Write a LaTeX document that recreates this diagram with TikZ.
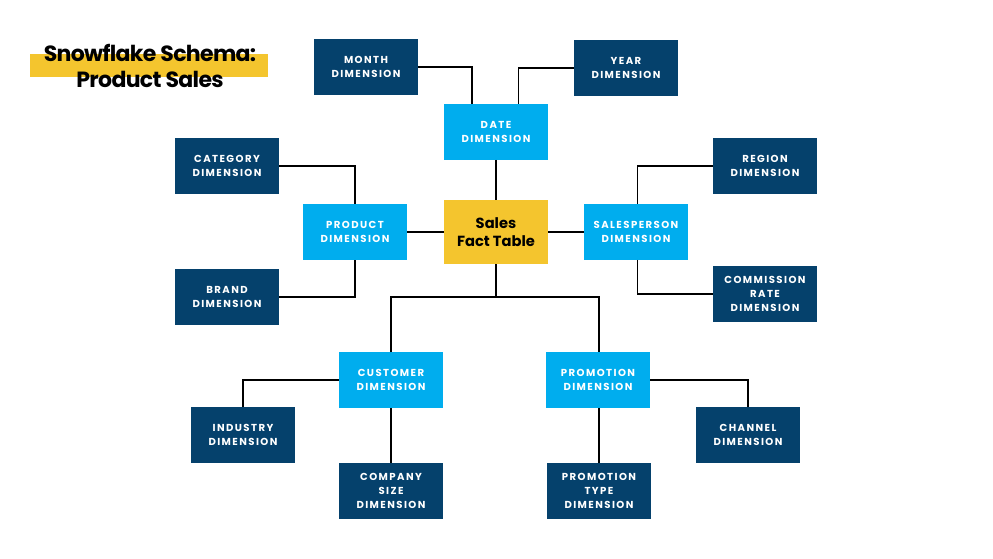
\documentclass[tikz,border=0pt]{standalone}
\usepackage{fontspec}
\setmainfont{Poppins}
\newfontfamily\boxfont[LetterSpace=14]{Poppins}
\newfontfamily\titlefont[LetterSpace=-3]{Poppins}
\usepackage{tikz}

\definecolor{navy}{HTML}{05416C}
\definecolor{sky}{HTML}{00ADEE}
\definecolor{gold}{HTML}{F4C52E}

\begin{document}
\begin{tikzpicture}[x=0.75pt,y=-0.75pt,
    link/.style={line width=1pt,black},
    dimbox/.style={fill=navy,text=white,minimum width=78pt,minimum height=41.5pt,
        align=center,inner sep=1pt,font=\boxfont\bfseries\fontsize{7.6}{10.5}\selectfont},
    subbox/.style={dimbox,fill=sky},
    factbox/.style={fill=gold,text=black,minimum width=78pt,minimum height=48pt,
        align=center,font=\bfseries\fontsize{11}{13.5}\selectfont}]
    % Page frame
    \useasboundingbox[fill=white] (0,0) rectangle (993,559);
    % Title with highlight bar
    \fill[gold] (30,54) rectangle (268,77);
    \node[align=center,font=\titlefont\bfseries\fontsize{16.5}{20}\selectfont] (title) at (150,66) {Snowflake Schema:\\Product Sales};
    % Fact table and first level
    \node[factbox] (sales) at (496,232) {Sales\\Fact Table};
    \node[subbox] (date) at (496,132) {DATE\\DIMENSION};
    \node[subbox] (product) at (355,232) {PRODUCT\\DIMENSION};
    \node[subbox] (salesperson) at (636,232) {SALESPERSON\\DIMENSION};
    \node[subbox] (customer) at (391,380) {CUSTOMER\\DIMENSION};
    \node[subbox] (promotion) at (598,380) {PROMOTION\\DIMENSION};
    % Second level
    \node[dimbox] (month) at (366,67) {MONTH\\DIMENSION};
    \node[dimbox] (year) at (626,68) {YEAR\\DIMENSION};
    \node[dimbox] (category) at (227,166) {CATEGORY\\DIMENSION};
    \node[dimbox] (brand) at (227,297) {BRAND\\DIMENSION};
    \node[dimbox] (region) at (765,166) {REGION\\DIMENSION};
    \node[dimbox] (commission) at (765,294) {COMMISSION\\RATE\\DIMENSION};
    \node[dimbox] (industry) at (243,435) {INDUSTRY\\DIMENSION};
    \node[dimbox] (company) at (391,491) {COMPANY\\SIZE\\DIMENSION};
    \node[dimbox] (channel) at (748,435) {CHANNEL\\DIMENSION};
    \node[dimbox] (promotype) at (599,491) {PROMOTION\\TYPE\\DIMENSION};
    % Connectors
    \coordinate (split) at (496,297);
    \draw[link] (month.east) -| ([xshift=-18pt]date.north);
    \draw[link] (year.west) -| ([xshift=17pt]date.north);
    \draw[link] (date) -- (sales);
    \draw[link] (category.east) -| (product.north);
    \draw[link] (brand.east) -| (product.south);
    \draw[link] (product) -- (sales);
    \draw[link] (sales) -- (salesperson);
    \draw[link] ([xshift=1pt]salesperson.north) |- (region.west);
    \draw[link] ([xshift=1pt]salesperson.south) |- (commission.west);
    \draw[link] (sales.south) -- (split);
    \draw[link] (customer.north) |- (split) -| ([xshift=0.75pt]promotion.north);
    \draw[link] (customer.west) -| (industry.north);
    \draw[link] (customer) -- (company);
    \draw[link] (promotion.east) -| (channel.north);
    \draw[link] ([xshift=0.75pt]promotion.south) -- (promotype.north);
\end{tikzpicture}
\end{document}
